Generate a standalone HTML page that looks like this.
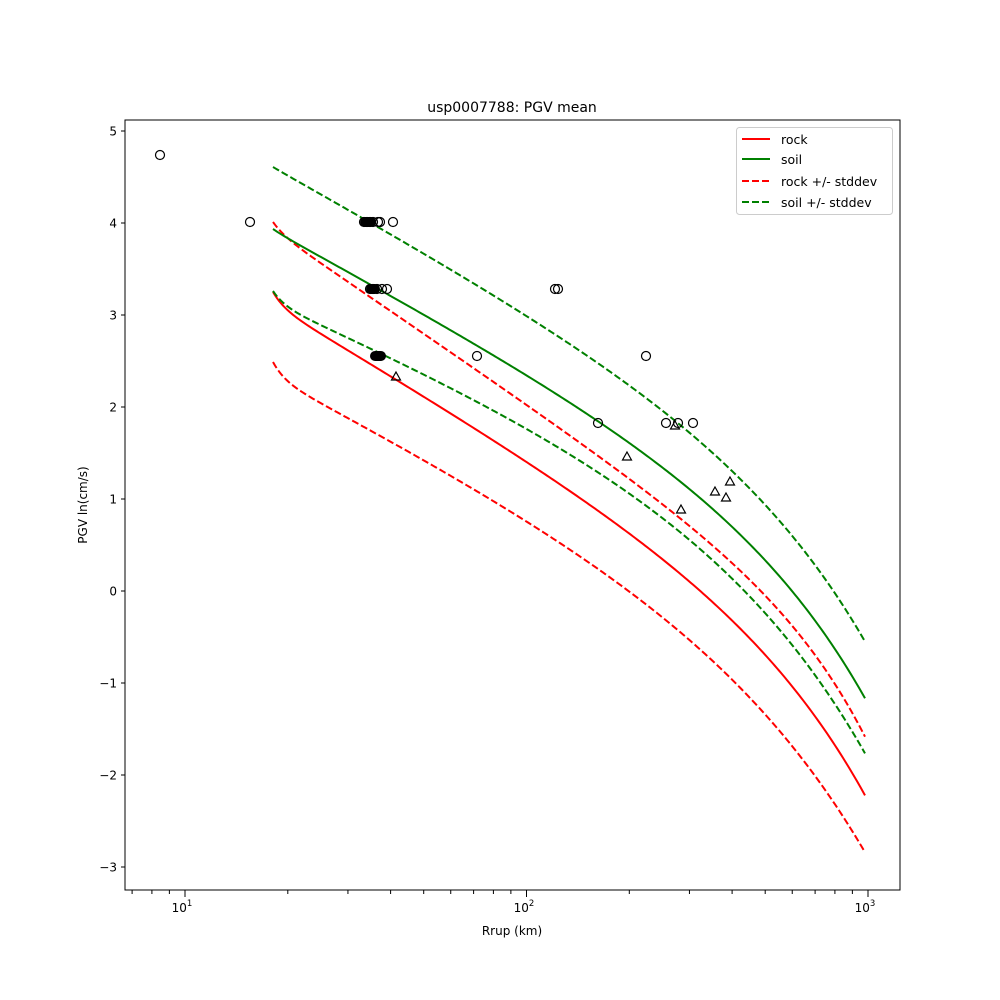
<!DOCTYPE html>
<html><head><meta charset="utf-8"><style>body{margin:0;background:#fff}svg{display:block}text{font-family:"DejaVu Sans","Liberation Sans",sans-serif;fill:#000}</style></head>
<body>
<svg id="s" width="1000" height="1000" viewBox="0 0 1000 1000">
<rect width="1000" height="1000" fill="#fff"/>
<g id="curves" fill="none" stroke-width="2"></g>
<g fill="none" stroke="#000" stroke-width="1.2">
<circle cx="160" cy="155" r="4.5"/><circle cx="250" cy="222" r="4.5"/>
<circle cx="364" cy="222" r="4.5"/><circle cx="367" cy="222" r="4.5"/><circle cx="370" cy="222" r="4.5"/><circle cx="373" cy="222" r="4.5"/><circle cx="378" cy="222" r="4.5"/><circle cx="380" cy="222" r="4.5"/><circle cx="393" cy="222" r="4.5"/>
<circle cx="370" cy="289" r="4.5"/><circle cx="373" cy="289" r="4.5"/><circle cx="377" cy="289" r="4.5"/><circle cx="382" cy="289" r="4.5"/><circle cx="387" cy="289" r="4.5"/>
<circle cx="477" cy="356" r="4.5"/><circle cx="555" cy="289" r="4.5"/><circle cx="558" cy="289" r="4.5"/><circle cx="598" cy="423" r="4.5"/><circle cx="646" cy="356" r="4.5"/><circle cx="666" cy="423" r="4.5"/><circle cx="678" cy="423" r="4.5"/><circle cx="693" cy="423" r="4.5"/>
<path d="M396,372 l4.5,8 h-9z M627,452 l4.5,8 h-9z M675,421 l4.5,8 h-9z M681,505 l4.5,8 h-9z M715,487 l4.5,8 h-9z M726,493 l4.5,8 h-9z M730,477 l4.5,8 h-9z"/>
</g>
<g fill="#000"><rect x="370" y="351" width="16" height="10" rx="5"/><rect x="360" y="217" width="16" height="10" rx="5"/><rect x="366" y="284" width="14" height="10" rx="5"/></g>
<rect x="125" y="120" width="775" height="770" fill="none" stroke="#000" stroke-width="1"/>
<g id="ticks" stroke="#000" stroke-width="1"></g>
<g font-size="12" text-anchor="end" id="yl"></g>
<text x="512" y="112" font-size="14" text-anchor="middle">usp0007788: PGV mean</text>
<text x="512" y="935" font-size="12" text-anchor="middle">Rrup (km)</text>
<text transform="translate(87,505) rotate(-90)" font-size="12" text-anchor="middle">PGV ln(cm/s)</text>
<g font-size="12" text-anchor="middle">
<text x="182" y="912">10<tspan font-size="8.5" dy="-6">1</tspan></text>
<text x="524" y="912">10<tspan font-size="8.5" dy="-6">2</tspan></text>
<text x="865" y="912">10<tspan font-size="8.5" dy="-6">3</tspan></text>
</g>
<rect x="736.5" y="127.5" width="156" height="87" fill="#fff" stroke="#ccc" rx="3"/>
<g stroke-width="2" fill="none">
<line x1="742" y1="139" x2="770" y2="139" stroke="#f00"/>
<line x1="742" y1="159" x2="770" y2="159" stroke="#008000"/>
<line x1="742" y1="181" x2="770" y2="181" stroke="#f00" stroke-dasharray="7,3"/>
<line x1="742" y1="202" x2="770" y2="202" stroke="#008000" stroke-dasharray="7,3"/>
</g>
<g font-size="12.5"><text x="781" y="144">rock</text><text x="781" y="164">soil</text><text x="781" y="186">rock +/- stddev</text><text x="781" y="207">soil +/- stddev</text></g>
</svg>
<script>
var ns="http://www.w3.org/2000/svg",t=document.getElementById("ticks"),yl=document.getElementById("yl"),cg=document.getElementById("curves");
function ln(x1,y1,x2,y2){var l=document.createElementNS(ns,"line");l.setAttribute("x1",x1);l.setAttribute("y1",y1);l.setAttribute("x2",x2);l.setAttribute("y2",y2);t.appendChild(l);}
for(var v=5;v>=-3;v--){var y=131+(5-v)*92;ln(121,y,125,y);var e=document.createElementNS(ns,"text");e.setAttribute("x",117);e.setAttribute("y",y+4.5);e.textContent=(v<0?"\u2212"+(-v):v);yl.appendChild(e);}
function X(r){return 185+(Math.log10(r)-1)*341.5;}
[10,100,1000].forEach(function(r){ln(X(r),890,X(r),897);});
[7,8,9,20,30,40,50,60,70,80,90,200,300,400,500,600,700,800,900].forEach(function(r){ln(X(r),890,X(r),894);});
function solve3(M,v){var A=M.map(function(r,i){return r.concat([v[i]]);});
 for(var i=0;i<3;i++){var p=i;for(var j=i+1;j<3;j++)if(Math.abs(A[j][i])>Math.abs(A[p][i]))p=j;var tmp=A[i];A[i]=A[p];A[p]=tmp;
  for(var j=0;j<3;j++)if(j!=i){var f=A[j][i]/A[i][i];for(var k=i;k<4;k++)A[j][k]-=f*A[i][k];}}
 return [A[0][3]/A[0][0],A[1][3]/A[1][1],A[2][3]/A[2][2]];}
function fit(pts,S){var M=[[0,0,0],[0,0,0],[0,0,0]],v=[0,0,0];
 pts.forEach(function(p){var r=[1,(p[0]-600)/100,Math.exp((p[0]-866)/S)];for(var i=0;i<3;i++){v[i]+=r[i]*p[1];for(var j=0;j<3;j++)M[i][j]+=r[i]*r[j];}});
 var c=solve3(M,v);var f=function(x){return c[0]+c[1]*(x-600)/100+c[2]*Math.exp((x-866)/S);};
 var err=0;pts.forEach(function(p){err+=Math.pow(f(p[0])-p[1],2);});return {f:f,err:err};}
function cv(pts,st,col,dash){
 var best=null;for(var S=50;S<=400;S+=5){var r=fit(pts,S);if(!best||r.err<best.err)best=r;}
 var f=best.f,k=st[1]-f(st[0]),d="";
 for(var x=273;x<=866;x+=2){var y=f(x)+k*Math.exp(-(x-273)/12);d+=(d?" L":"M")+x+","+y.toFixed(2);}
 var q=document.createElementNS(ns,"path");q.setAttribute("d",d);q.setAttribute("stroke",col);if(dash)q.setAttribute("stroke-dasharray","7,3");cg.appendChild(q);}
cv([[303,322],[400,384],[560,485],[680,570],[700,592],[750,640],[866,797]],[273,292],"#ff0000");
cv([[300,245],[380,308],[510,397],[560,428],[680,512],[717,550],[780,615],[866,738]],[273,222],"#ff0000",1);
cv([[305,395],[437,468],[560,543],[690,640],[700,650],[866,854]],[273,362],"#ff0000",1);
cv([[273,229],[380,293],[510,365],[570,400],[598,423],[780,577],[866,700]],[273,229],"#008000");
cv([[273,167],[510,307],[650,400],[780,520],[802,550],[866,643]],[273,167],"#008000",1);
cv([[307,317],[380,357],[510,418],[560,448],[680,530],[700,552],[780,630],[866,755]],[273,291],"#008000",1);
</script>
</body></html>
